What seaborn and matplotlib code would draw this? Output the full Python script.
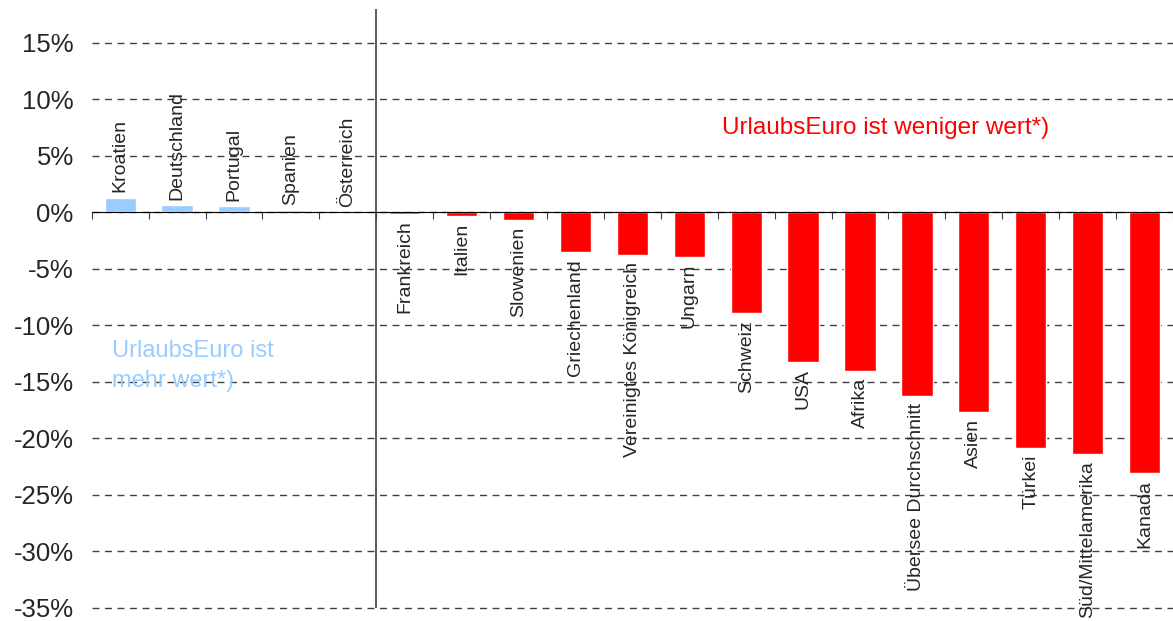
import pandas as pd
import matplotlib
matplotlib.use("Agg")
import matplotlib.pyplot as plt
import seaborn as sns

# values (change of holiday euro value, %)
countries = ["Kroatien", "Deutschland", "Portugal", "Spanien", "Österreich",
             "Frankreich", "Italien", "Slowenien", "Griechenland",
             "Vereinigtes Königreich", "Ungarn", "Schweiz", "USA", "Afrika",
             "Übersee Durchschnitt", "Asien", "Türkei", "Süd/Mittelamerika", "Kanada"]
change = [1.3, 0.65, 0.55, 0.2, 0.0,
          -0.1, -0.3, -0.65, -3.5, -3.75, -3.9, -8.9, -13.2, -14.05,
          -16.2, -17.65, -20.8, -21.4, -23.1]
y_ticks = [15, 10, 5, 0, -5, -10, -15, -20, -25, -30, -35]

blue = "#99CCFF"
red = "#FF0000"

data = pd.DataFrame({"Land": countries, "Wert": change})
data["Gruppe"] = ["mehr" if i < 5 else "weniger" for i in range(len(data))]

sns.set_style("white")
plt.rcParams["font.family"] = ["Liberation Sans", "DejaVu Sans"]

fig = plt.figure(figsize=(11.73, 6.21), dpi=100)
ax = fig.add_axes([0.0782, 0.0155, 0.9218, 0.970])

sns.barplot(data=data, x="Land", y="Wert", hue="Gruppe",
            palette={"mehr": blue, "weniger": red}, dodge=False,
            width=0.55, legend=False, ax=ax, saturation=1)

ax.set_xlim(-0.5, 18.5)
ax.set_ylim(-35.3, 18)
ax.set_yticks(y_ticks)
ax.set_yticklabels([f"{t}%" for t in y_ticks], fontsize=18.5)
ax.tick_params(axis="y", length=0, pad=13)
ax.yaxis.grid(True, linestyle=(0, (5, 4)), color="#404040", linewidth=1)
ax.set_axisbelow(True)

# x axis sits on the zero line, ticks between categories
ax.spines["bottom"].set_position(("data", 0))
for s in ["left", "right", "top"]:
    ax.spines[s].set_visible(False)
ax.spines["bottom"].set_color("black")
ax.set_xticks([i - 0.5 for i in range(len(countries) + 1)])
ax.set_xticklabels([])
ax.tick_params(axis="x", direction="out", length=5, color="#404040", bottom=True)
ax.set_xlabel("")
ax.set_ylabel("")

# separator between the two groups
ax.vlines(4.5, -35, 18, color="#404040", linewidth=1.2)

# category labels next to the bars
for i, (name, v) in enumerate(zip(countries, change)):
    if v >= 0:
        ax.annotate(name, (i, v), xytext=(0, 4), textcoords="offset points",
                    rotation=90, ha="center", va="bottom", fontsize=14)
    else:
        ax.annotate(name, (i, v), xytext=(0, -5), textcoords="offset points",
                    rotation=90, ha="center", va="top", fontsize=14)

ax.text(10.57, 6.9, "UrlaubsEuro ist weniger wert*)", color=red, fontsize=17.5,
        ha="left", va="baseline")
ax.text(-0.14, -12.8, "UrlaubsEuro ist", color=blue, fontsize=17,
        ha="left", va="baseline")
ax.text(-0.14, -15.45, "mehr wert*)", color=blue, fontsize=17,
        ha="left", va="baseline")

fig.savefig("out.png", dpi=100)
